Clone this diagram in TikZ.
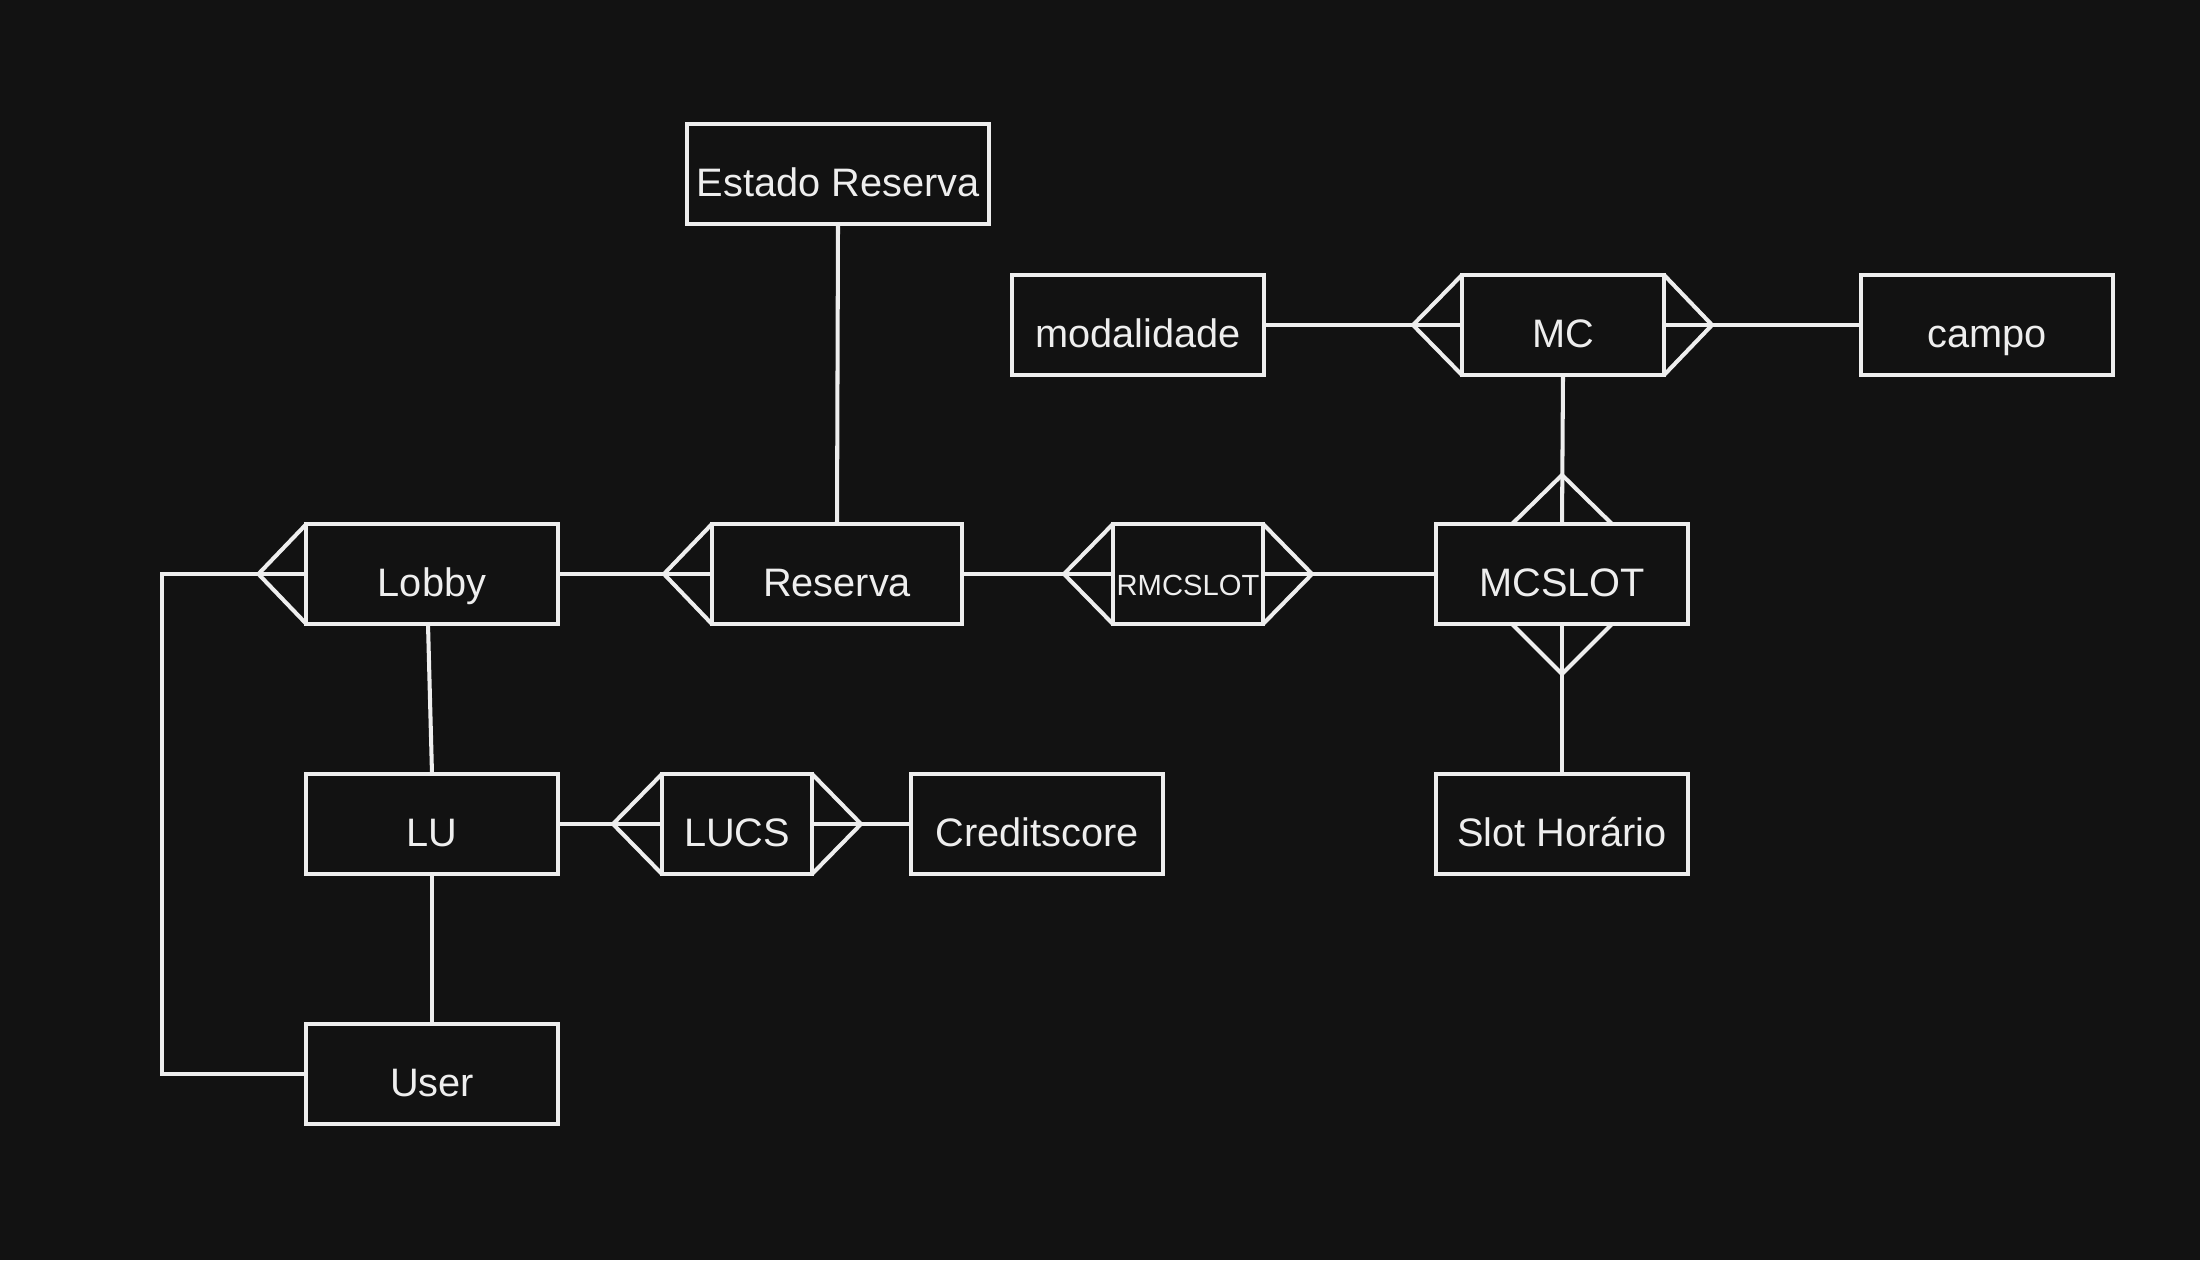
\documentclass[tikz,border=0pt]{standalone}
\usepackage{fontspec}
\setmainfont{Liberation Sans}
\usetikzlibrary{calc}
\definecolor{bg}{HTML}{121212}
\definecolor{fg}{HTML}{EEEEEE}
\newcommand{\crowfoot}[3]{\draw[ln] ($(#1)+(#3)$) -- ($(#1)+(#2)$) -- ($(#1)-(#3)$);}
\begin{document}
\begin{tikzpicture}[x=0.01cm,y=-0.01cm,
  ln/.style={draw=fg, line width=1.15pt},
  ent/.style={ln, fill=bg, rectangle, inner sep=0pt, outer sep=0pt,
    minimum height=1cm, minimum width=2.51cm, text=fg,
    font=\fontsize{11.3}{13}\selectfont, text height=0.44cm, text depth=0pt},
  small/.style={font=\fontsize{8.3}{10}\selectfont, text height=0.43cm}
]
\fill[bg] (0,0) rectangle (2200,1260);
\useasboundingbox (0,0) rectangle (2200,1260);

% entities
\node[ent, minimum width=3.02cm] (estado) at (838,174) {Estado Reserva};
\node[ent] (modalidade) at (1138,325) {modalidade};
\node[ent, minimum width=2.02cm] (mc) at (1563,325) {MC};
\node[ent] (campo) at (1987,325) {campo};
\node[ent] (lobby) at (432,574) {Lobby};
\node[ent, minimum width=2.50cm] (reserva) at (837,574) {Reserva};
\node[ent, small, minimum width=1.50cm] (rmcslot) at (1188,574) {RMCSLOT};
\node[ent] (mcslot) at (1562,574) {MCSLOT};
\node[ent] (lu) at (432,824) {LU};
\node[ent, minimum width=1.50cm] (lucs) at (737,824) {LUCS};
\node[ent] (credit) at (1037,824) {Creditscore};
\node[ent] (slot) at (1562,824) {Slot Horário};
\node[ent] (user) at (432,1074) {User};

% connectors
\draw[ln] (estado.south) -- (reserva.north);
\draw[ln] (lobby.east) -- (reserva.west);
\crowfoot{reserva.west}{-48,0}{0,50}
\draw[ln] (reserva.east) -- (rmcslot.west);
\crowfoot{rmcslot.west}{-49,0}{0,50}
\draw[ln] (rmcslot.east) -- (mcslot.west);
\crowfoot{rmcslot.east}{49,0}{0,50}
\draw[ln] (modalidade.east) -- (mc.west);
\crowfoot{mc.west}{-49,0}{0,50}
\draw[ln] (mc.east) -- (campo.west);
\crowfoot{mc.east}{48,0}{0,50}
\draw[ln] (mc.south) -- (mcslot.north);
\crowfoot{mcslot.north}{0,-49}{50,0}
\draw[ln] (mcslot.south) -- (slot.north);
\crowfoot{mcslot.south}{0,50}{50,0}
\draw[ln] ($(lobby.south)+(-4,0)$) -- (lu.north);
\draw[ln] (lu.east) -- (lucs.west);
\crowfoot{lucs.west}{-49,0}{0,50}
\draw[ln] (lucs.east) -- (credit.west);
\crowfoot{lucs.east}{49,0}{0,50}
\draw[ln] (lu.south) -- (user.north);
\draw[ln] (user.west) -- ++(-144,0) |- (lobby.west);
\crowfoot{lobby.west}{-48,0}{0,50}
\end{tikzpicture}
\end{document}
